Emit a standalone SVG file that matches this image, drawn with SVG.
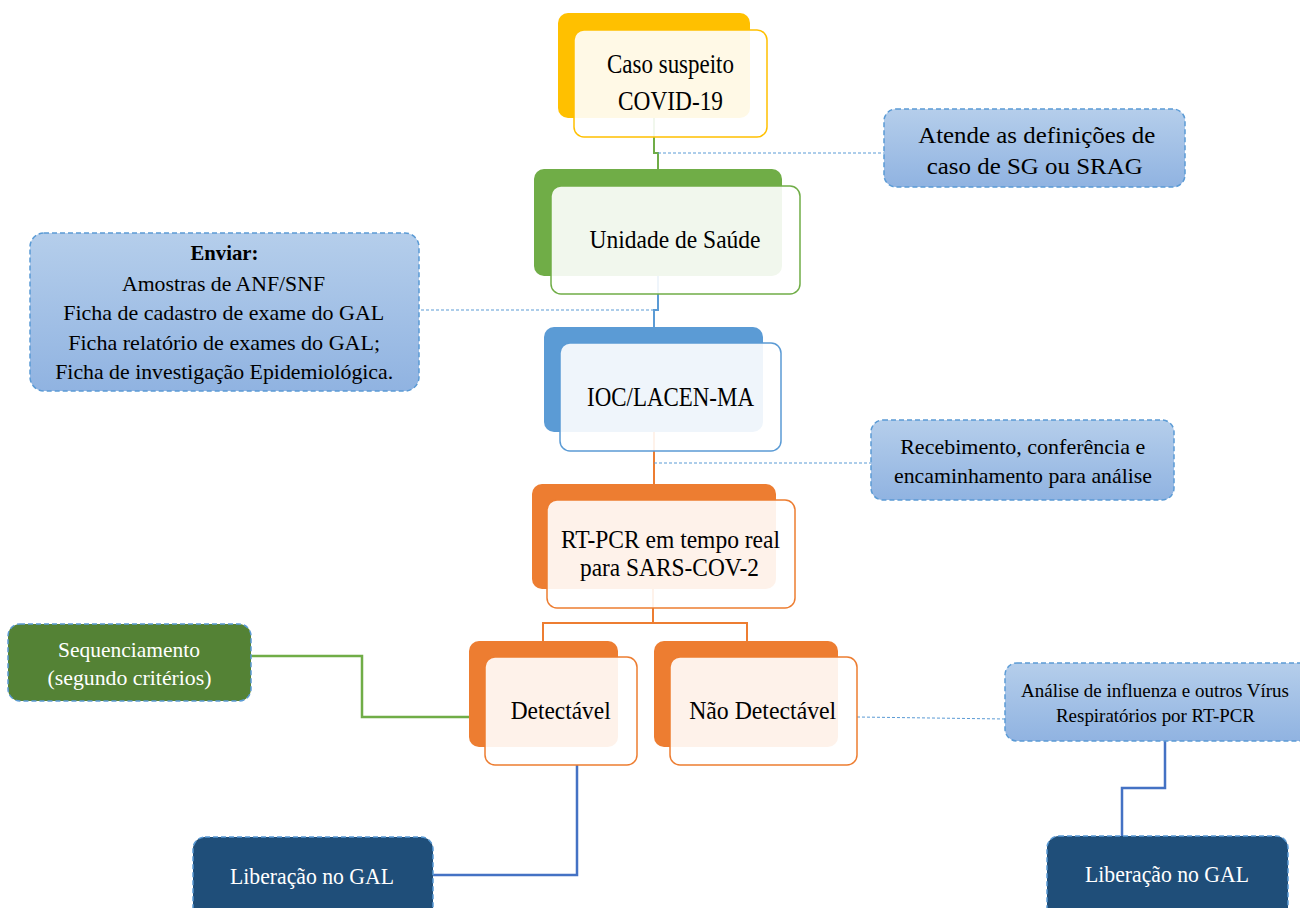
<svg xmlns="http://www.w3.org/2000/svg" width="1300" height="908" viewBox="0 0 1300 908">
<defs>
<linearGradient id="g" x1="0" y1="0" x2="0" y2="1">
<stop offset="0" stop-color="#B5CEEB"/>
<stop offset="1" stop-color="#90B3E1"/>
</linearGradient>
<style>
.t{font-family:"Liberation Serif","Times New Roman",serif;fill:#000;text-anchor:middle}
.w{fill:#fff}
.front{fill:#fff;fill-opacity:.9;stroke-width:1.5}
.note{fill:url(#g);stroke:#5B9BD5;stroke-width:1.5;stroke-dasharray:5 3}
.dark{stroke:#5B9BD5;stroke-width:1.5;stroke-dasharray:5 3}
.dot{fill:none;stroke:#5B9BD5;stroke-width:1;stroke-dasharray:3 2}
.c{fill:none}
</style>
</defs>
<rect width="1300" height="908" fill="#fff"/>
<g id="connectors">
<path class="c" d="M654,118 V153 H658 V169" stroke="#70AD47" stroke-width="2"/>
<path class="dot" d="M658,153 H884"/>
<path class="c" d="M658,276 V310 H654 V327" stroke="#5B9BD5" stroke-width="2"/>
<path class="dot" d="M654,310 H419"/>
<path class="c" d="M654,432 V484" stroke="#ED7D31" stroke-width="2"/>
<path class="dot" d="M654,463 H871"/>
<path class="c" d="M653,589 V623" stroke="#ED7D31" stroke-width="2"/>
<path class="c" d="M543,641 V623 H747 V641" stroke="#ED7D31" stroke-width="2"/>
<path class="c" d="M251,656 H362 V717 H469" stroke="#70AD47" stroke-width="2.5"/>
<path class="c" d="M577,765 V875 H433" stroke="#4472C4" stroke-width="2.5"/>
<path class="dot" d="M857,717 L1005,719"/>
<path class="c" d="M1165,741 V788 H1122 V836" stroke="#4472C4" stroke-width="2.5"/>
</g>
<g id="n-caso">
<rect x="558" y="13" width="192" height="105" rx="10" fill="#FFC000"/>
<rect class="front" x="574" y="30" width="193" height="107" rx="10" stroke="#FFC000"/>
<text class="t" x="670.5" y="73" font-size="27" textLength="127" lengthAdjust="spacingAndGlyphs">Caso suspeito</text>
<text class="t" x="670.5" y="110" font-size="27" textLength="105" lengthAdjust="spacingAndGlyphs">COVID-19</text>
</g>
<g id="n-atende">
<rect class="note" x="884" y="109" width="301" height="78" rx="12"/>
<text class="t" x="1036.7" y="143" font-size="24" textLength="237" lengthAdjust="spacingAndGlyphs">Atende as definições de</text>
<text class="t" x="1034.7" y="174" font-size="24" textLength="216" lengthAdjust="spacingAndGlyphs">caso de SG ou SRAG</text>
</g>
<g id="n-unidade">
<rect x="534" y="169" width="248" height="107" rx="10" fill="#70AD47"/>
<rect class="front" x="551" y="186" width="249" height="108" rx="10" stroke="#70AD47"/>
<text class="t" x="675" y="248" font-size="25" textLength="171" lengthAdjust="spacingAndGlyphs">Unidade de Saúde</text>
</g>
<g id="n-enviar">
<rect class="note" x="30" y="233" width="389" height="158" rx="14"/>
<text class="t" x="224.5" y="260" font-size="22" font-weight="bold" textLength="68" lengthAdjust="spacingAndGlyphs">Enviar:</text>
<text class="t" x="223.5" y="291" font-size="22" textLength="203" lengthAdjust="spacingAndGlyphs">Amostras de ANF/SNF</text>
<text class="t" x="223.7" y="320" font-size="22" textLength="321" lengthAdjust="spacingAndGlyphs">Ficha de cadastro de exame do GAL</text>
<text class="t" x="224.2" y="350" font-size="22" textLength="312" lengthAdjust="spacingAndGlyphs">Ficha relatório de exames do GAL;</text>
<text class="t" x="224.2" y="379" font-size="22" textLength="338" lengthAdjust="spacingAndGlyphs">Ficha de investigação Epidemiológica.</text>
</g>
<g id="n-ioc">
<rect x="544" y="327" width="219" height="105" rx="10" fill="#5B9BD5"/>
<rect class="front" x="560" y="343" width="221" height="108" rx="10" stroke="#5B9BD5"/>
<text class="t" x="670.5" y="406" font-size="27" textLength="167" lengthAdjust="spacingAndGlyphs">IOC/LACEN-MA</text>
</g>
<g id="n-receb">
<rect class="note" x="871" y="420" width="303" height="80" rx="12"/>
<text class="t" x="1022.7" y="454" font-size="22" textLength="245" lengthAdjust="spacingAndGlyphs">Recebimento, conferência e</text>
<text class="t" x="1023" y="483" font-size="22" textLength="258" lengthAdjust="spacingAndGlyphs">encaminhamento para análise</text>
</g>
<g id="n-rtpcr">
<rect x="532" y="484" width="244" height="105" rx="10" fill="#ED7D31"/>
<rect class="front" x="547" y="500" width="248" height="108" rx="10" stroke="#ED7D31"/>
<text class="t" x="670.5" y="548" font-size="26" textLength="219" lengthAdjust="spacingAndGlyphs">RT-PCR em tempo real</text>
<text class="t" x="669.5" y="576" font-size="26" textLength="179" lengthAdjust="spacingAndGlyphs">para SARS-COV-2</text>
</g>
<g id="n-seq">
<rect class="dark" x="8" y="624" width="243" height="77" rx="12" fill="#548235"/>
<text class="t w" x="129" y="657" font-size="22" textLength="142" lengthAdjust="spacingAndGlyphs">Sequenciamento</text>
<text class="t w" x="129.5" y="685" font-size="22" textLength="164" lengthAdjust="spacingAndGlyphs">(segundo critérios)</text>
</g>
<g id="n-detect">
<rect x="469" y="641" width="149" height="106" rx="10" fill="#ED7D31"/>
<rect class="front" x="485" y="657" width="152" height="108" rx="10" stroke="#ED7D31"/>
<text class="t" x="560.7" y="719" font-size="25" textLength="100" lengthAdjust="spacingAndGlyphs">Detectável</text>
</g>
<g id="n-nao">
<rect x="654" y="641" width="184" height="106" rx="10" fill="#ED7D31"/>
<rect class="front" x="670" y="657" width="187" height="108" rx="10" stroke="#ED7D31"/>
<text class="t" x="762.7" y="719" font-size="25" textLength="147" lengthAdjust="spacingAndGlyphs">Não Detectável</text>
</g>
<g id="n-analise">
<rect class="note" x="1005" y="663" width="310" height="78" rx="12"/>
<text class="t" x="1155" y="697" font-size="19" textLength="268" lengthAdjust="spacingAndGlyphs">Análise de influenza e outros Vírus</text>
<text class="t" x="1155.5" y="722" font-size="19" textLength="199" lengthAdjust="spacingAndGlyphs">Respiratórios por RT-PCR</text>
</g>
<g id="n-lib1">
<rect class="dark" x="193" y="837" width="240" height="90" rx="12" fill="#1F4E79"/>
<text class="t w" x="312" y="884" font-size="24" textLength="164" lengthAdjust="spacingAndGlyphs">Liberação no GAL</text>
</g>
<g id="n-lib2">
<rect class="dark" x="1047" y="836" width="241" height="90" rx="12" fill="#1F4E79"/>
<text class="t w" x="1167" y="882" font-size="24" textLength="164" lengthAdjust="spacingAndGlyphs">Liberação no GAL</text>
</g>
</svg>
